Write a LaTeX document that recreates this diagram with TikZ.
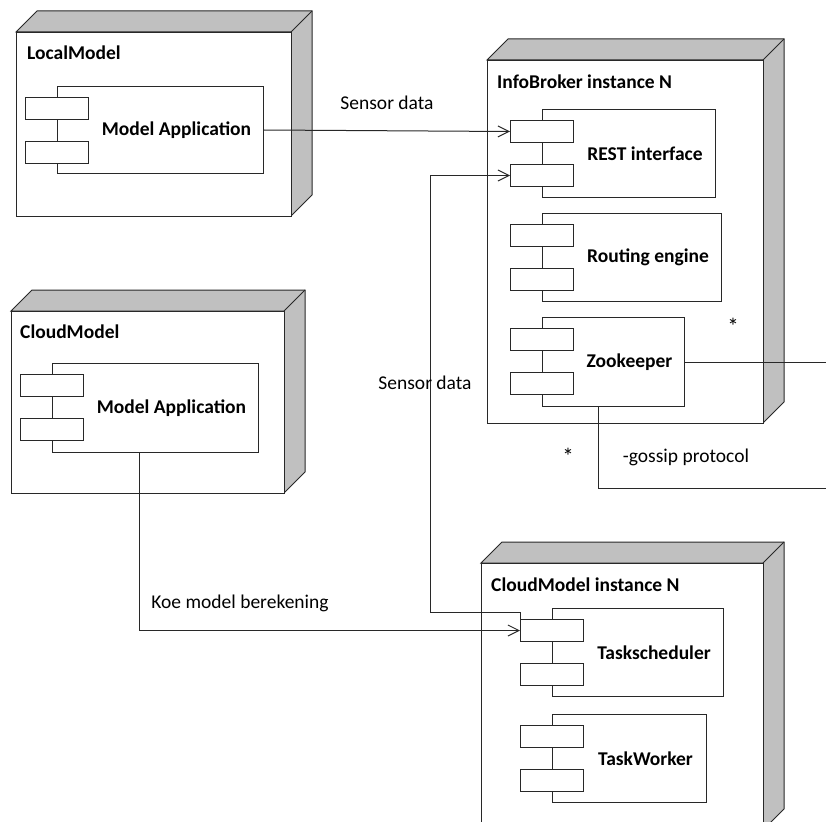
\documentclass[tikz,border=0pt]{standalone}
\usepackage{fontspec}
\setmainfont{Carlito}
\usetikzlibrary{arrows.meta,calc}
\definecolor{devgray}{RGB}{192,192,192}
\definecolor{inkgray}{RGB}{40,40,40}

\tikzset{
  frontface/.style={draw=inkgray, line width=1pt, fill=white, inner sep=0pt, anchor=north west},
  sideface/.style={draw=inkgray, line width=1pt, fill=devgray, line join=miter},
  compbox/.style={draw=inkgray, line width=1pt, fill=white, inner sep=0pt, anchor=north west},
  portbox/.style={draw=inkgray, line width=1pt, fill=white, inner sep=0pt, anchor=north west,
    minimum width=63pt, minimum height=22pt},
  devtitle/.style={font=\bfseries\fontsize{19.5}{22}\selectfont, inner sep=0pt, anchor=west},
  comptext/.style={font=\bfseries\fontsize{19.5}{22}\selectfont, inner sep=0pt},
  lbl/.style={font=\fontsize{19.5}{22}\selectfont, inner sep=0pt},
  conn/.style={draw=inkgray, line width=1pt},
  arr/.style={-{Straight Barb[length=11pt,width=11pt,line width=1pt]}}
}

% 3D node: name, left, top, width, height (depth 21)
\newcommand{\devnode}[5]{%
  \draw[sideface] (#2,#3) -- ++(21,-21) -- ++(#4,0) -- ++(0,#5) -- ++(-21,21) -- ++(0,-#5) -- cycle;
  \draw[sideface] (#2+#4,#3) -- ++(21,-21);
  \node[frontface, minimum width=#4pt, minimum height=#5pt] (#1) at (#2,#3) {};
}

% component: name, left, top, width, height, text
\newcommand{\compnode}[6]{%
  \node[compbox, minimum width=#4pt, minimum height=#5pt] (#1) at (#2,#3) {};
  \node[portbox] (#1P1) at (#2-32,#3+11) {};
  \node[portbox] (#1P2) at (#2-32,#3+55) {};
  \node[comptext] (#1T) at ($(#1P1.east|-#1.center)!0.5!(#1.east)$) {#6};
}

\begin{document}
\begin{tikzpicture}[x=1pt, y=-1pt]
  \path[use as bounding box, clip] (0,0) rectangle (826,821);

  % nodes
  \devnode{localDev}{16}{32}{275}{184}
  \node[devtitle] (localTitle) at (27,53) {LocalModel};
  \compnode{locApp}{57}{86}{206}{87}{Model Application}

  \devnode{brokerDev}{487}{60}{276}{363}
  \node[devtitle] (brokerTitle) at (497,82) {InfoBroker instance N};
  \compnode{rest}{542}{109}{173}{88}{REST interface}
  \compnode{route}{542}{213}{179}{88}{Routing engine}
  \compnode{zoo}{542}{317}{142}{89}{Zookeeper}

  \devnode{cloudDev}{11}{311}{273}{182}
  \node[devtitle] (cloudTitle) at (20,332) {CloudModel};
  \compnode{cloudApp}{52}{363}{206}{89}{Model Application}

  \devnode{instDev}{481}{563}{282}{267}
  \node[devtitle] (instTitle) at (491,585) {CloudModel instance N};
  \compnode{sched}{552}{608}{171}{88}{Taskscheduler}
  \compnode{worker}{552}{714}{154}{88}{TaskWorker}

  % free ends at the right edge
  \coordinate (rimA) at (830,362);
  \coordinate (rimB) at (830,488);
  \coordinate (bendSD) at (430,612);

  % connectors
  \draw[conn, arr] (locApp.east) -- (restP1.west);
  \draw[conn, arr] (schedP1.north west) |- (bendSD) |- (restP2.west);
  \draw[conn, arr] ([xshift=-16pt]cloudApp.south) |- (schedP1.west);
  \draw[conn] (zoo.east) -- (zoo.east -| rimA);
  \draw[conn] ([xshift=-15pt]zoo.south) |- (rimB);

  % connector labels
  \node[lbl] (sd1) at (387,103) {Sensor data};
  \node[lbl] (sd2) at (425,383) {Sensor data};
  \node[lbl] (koe) at (240,603) {Koe model berekening};
  \node[lbl, anchor=north, font=\fontsize{23}{26}\selectfont] (star1) at (733,318) {*};
  \node[lbl, anchor=north, font=\fontsize{23}{26}\selectfont] (star2) at (568,448) {*};
  \node[lbl] (gossip) at (686,457) {-gossip protocol};
\end{tikzpicture}
\end{document}
